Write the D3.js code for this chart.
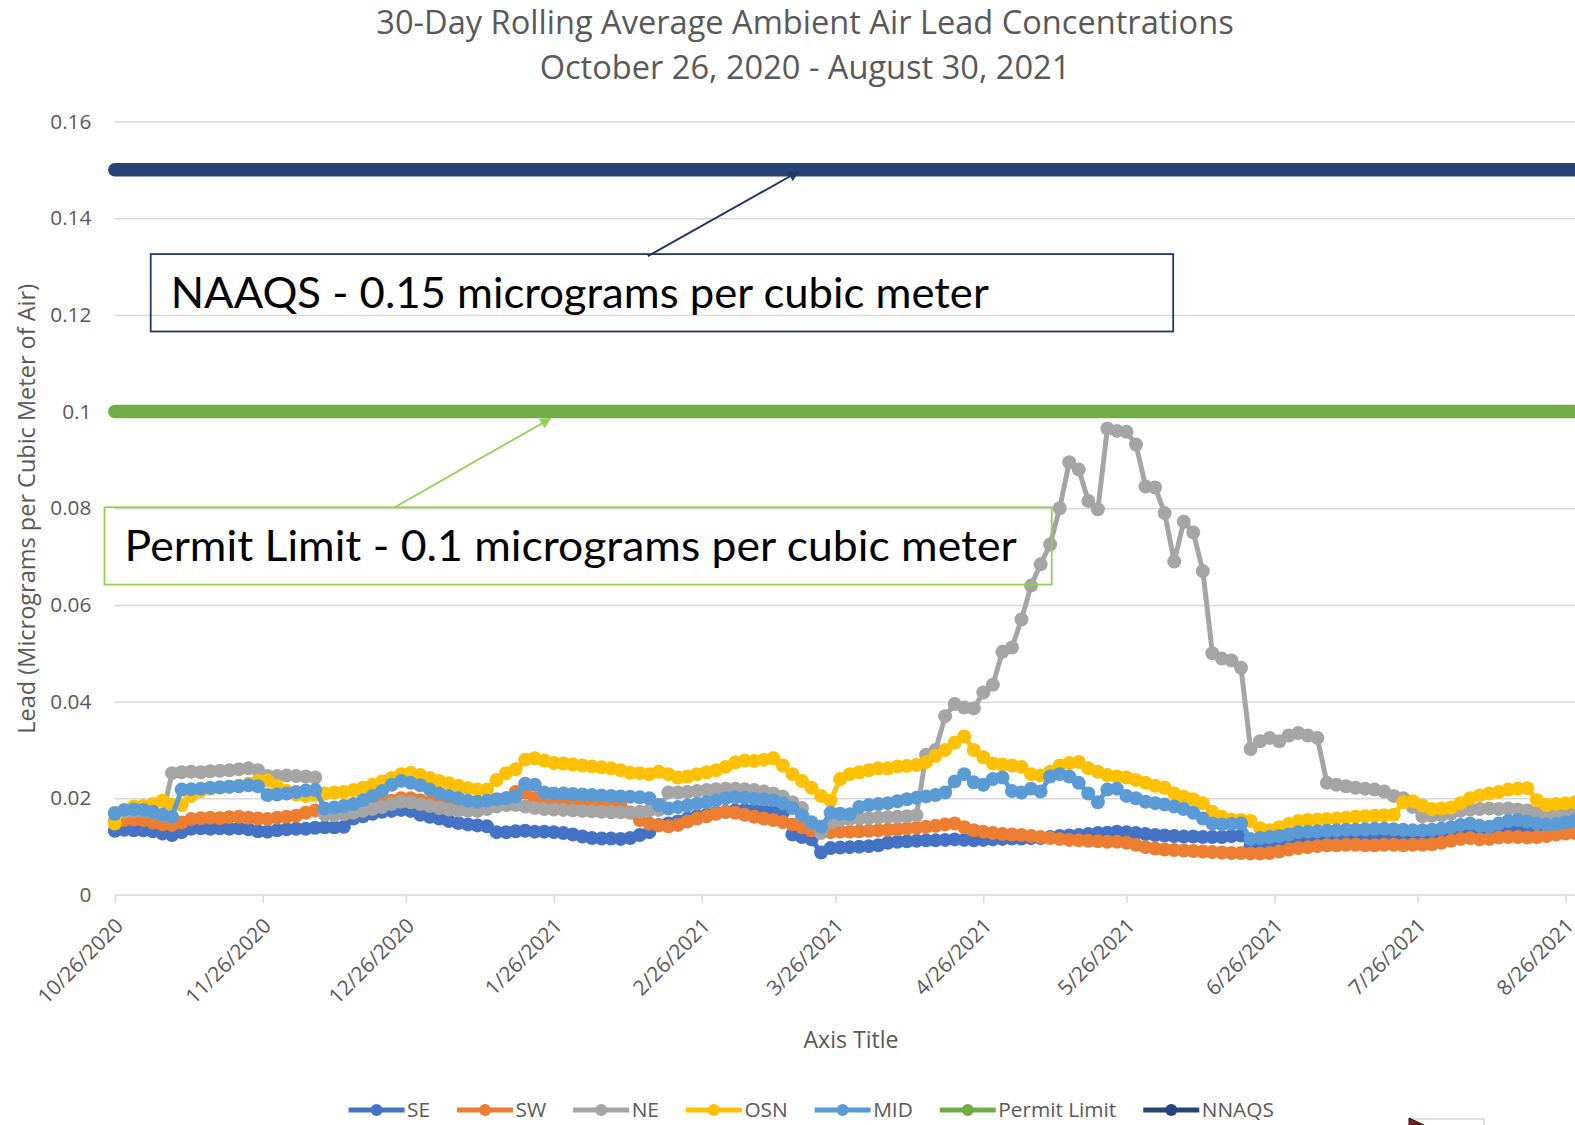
<!DOCTYPE html>
<html>
<head>
<meta charset="utf-8">
<script src="https://cdn.jsdelivr.net/npm/d3@7"></script>
<style>
  html, body { margin: 0; padding: 0; background: #fff; overflow: hidden; }
  svg { display: block; font-family: "Open Sans", sans-serif; }
</style>
</head>
<body>
<svg id="chart" width="1575" height="1125"></svg>
<script>
// readings every 2 days, 10/26/2020 .. 8/30/2021
const START_DATE = "10/26/2020";
const END_DATE = "8/30/2021";
const STEP_DAYS = 2;

const tickLabels = ["10/26/2020", "11/26/2020", "12/26/2020", "1/26/2021", "2/26/2021", "3/26/2021",
   "4/26/2021", "5/26/2021", "6/26/2021", "7/26/2021", "8/26/2021"];
const yTicks = [0, 0.02, 0.04, 0.06, 0.08, 0.1, 0.12, 0.14, 0.16];

const SE = [
   .0133,.0135,.0134,.0134,.0132,.0127,.0124,.0130,.0137,.0138,
   .0137,.0138,.0137,.0138,.0136,.0132,.0131,.0134,.0136,.0137,
   .0137,.0139,.0140,.0140,.0141,.0158,.0163,.0168,.0172,.0174,
   .0176,.0174,.0166,.0162,.0158,.0153,.0149,.0146,.0144,.0142,
   .0130,.0130,.0132,.0133,.0131,.0131,.0130,.0128,.0125,.0121,
   .0118,.0117,.0117,.0116,.0118,.0124,.0130,.0145,.0148,.0152,
   .0158,.0163,.0166,.0170,.0172,.0175,.0176,.0176,.0174,.0172,
   .0170,.0125,.0120,.0115,.0088,.0097,.0098,.0099,.0100,.0101,
   .0103,.0108,.0110,.0111,.0112,.0113,.0113,.0114,.0115,.0114,
   .0113,.0114,.0115,.0116,.0117,.0117,.0118,.0118,.0120,.0122,
   .0123,.0124,.0126,.0128,.0129,.0131,.0130,.0128,.0126,.0124,
   .0123,.0122,.0121,.0121,.0120,.0120,.0120,.0122,.0123,.0101,
   .0102,.0104,.0106,.0110,.0113,.0115,.0116,.0118,.0118,.0119,
   .0119,.0120,.0120,.0120,.0120,.0119,.0119,.0119,.0120,.0122,
   .0126,.0130,.0133,.0129,.0129,.0133,.0136,.0137,.0135,.0134,
   .0134,.0136,.0138,.0141,.0142
];
const SW = [
   .0152,.0155,.0156,.0155,.0150,.0146,.0145,.0150,.0157,.0159,
   .0160,.0159,.0161,.0162,.0160,.0158,.0157,.0160,.0162,.0164,
   .0170,.0175,.0172,.0174,.0176,.0179,.0182,.0186,.0190,.0195,
   .0200,.0200,.0196,.0192,.0188,.0186,.0184,.0183,.0184,.0188,
   .0192,.0200,.0213,.0212,.0200,.0195,.0194,.0193,.0193,.0192,
   .0190,.0188,.0186,.0184,.0170,.0155,.0148,.0144,.0142,.0145,
   .0152,.0158,.0163,.0168,.0172,.0170,.0166,.0162,.0158,.0155,
   .0151,.0146,.0140,.0134,.0131,.0130,.0131,.0131,.0132,.0133,
   .0134,.0135,.0136,.0138,.0139,.0141,.0143,.0146,.0148,.0140,
   .0134,.0131,.0128,.0126,.0125,.0124,.0122,.0120,.0118,.0116,
   .0114,.0113,.0112,.0111,.0110,.0110,.0108,.0104,.0099,.0096,
   .0094,.0093,.0092,.0091,.0090,.0089,.0088,.0087,.0087,.0086,
   .0086,.0087,.0090,.0094,.0097,.0099,.0101,.0103,.0103,.0104,
   .0104,.0103,.0103,.0104,.0104,.0103,.0104,.0104,.0105,.0108,
   .0112,.0116,.0118,.0115,.0116,.0119,.0120,.0120,.0119,.0120,
   .0122,.0125,.0127,.0128,.0129
];
const NE = [
   .0170,.0172,.0173,.0173,.0170,.0165,.0252,.0254,.0255,.0254,
   .0256,.0257,.0258,.0260,.0262,.0258,.0246,.0246,.0247,.0246,
   .0245,.0243,.0166,.0165,.0167,.0170,.0174,.0178,.0182,.0188,
   .0193,.0192,.0188,.0184,.0180,.0177,.0175,.0174,.0174,.0178,
   .0183,.0186,.0186,.0183,.0180,.0178,.0177,.0176,.0175,.0174,
   .0173,.0172,.0171,.0171,.0171,.0172,.0175,.0176,.0212,.0212,
   .0213,.0215,.0217,.0219,.0220,.0220,.0219,.0217,.0214,.0210,
   .0203,.0192,.0180,.0150,.0128,.0150,.0155,.0157,.0158,.0159,
   .0160,.0161,.0162,.0163,.0165,.0290,.0300,.0370,.0395,.0388,
   .0386,.0419,.0435,.0503,.0512,.0570,.0640,.0684,.0725,.0800,
   .0895,.0880,.0815,.0798,.0965,.0960,.0958,.0932,.0845,.0843,
   .0790,.0690,.0772,.0750,.0670,.0500,.0489,.0485,.0470,.0302,
   .0318,.0325,.0318,.0330,.0335,.0330,.0325,.0232,.0228,.0225,
   .0222,.0220,.0218,.0214,.0205,.0200,.0182,.0163,.0164,.0165,
   .0168,.0174,.0177,.0178,.0179,.0178,.0179,.0177,.0175,.0170,
   .0168,.0170,.0172,.0172,.0172
];
const OSN = [
   .0148,.0175,.0183,.0184,.0188,.0195,.0187,.0186,.0205,.0215,
   .0220,.0222,.0224,.0226,.0230,.0236,.0237,.0226,.0215,.0208,
   .0205,.0207,.0210,.0212,.0213,.0217,.0222,.0228,.0235,.0242,
   .0250,.0253,.0248,.0242,.0236,.0231,.0226,.0221,.0218,.0218,
   .0238,.0252,.0260,.0280,.0283,.0278,.0273,.0272,.0270,.0268,
   .0266,.0264,.0262,.0258,.0253,.0252,.0250,.0255,.0250,.0243,
   .0245,.0250,.0254,.0258,.0265,.0274,.0278,.0277,.0280,.0283,
   .0268,.0250,.0236,.0222,.0205,.0195,.0240,.0250,.0254,.0258,
   .0262,.0262,.0266,.0267,.0269,.0275,.0288,.0300,.0315,.0328,
   .0300,.0285,.0272,.0270,.0268,.0265,.0250,.0247,.0255,.0268,
   .0273,.0275,.0262,.0255,.0248,.0245,.0243,.0238,.0232,.0226,
   .0222,.0210,.0203,.0198,.0190,.0172,.0162,.0156,.0155,.0153,
   .0138,.0134,.0140,.0147,.0153,.0155,.0156,.0157,.0158,.0160,
   .0162,.0163,.0164,.0165,.0166,.0192,.0194,.0185,.0178,.0179,
   .0181,.0190,.0200,.0206,.0210,.0213,.0218,.0220,.0221,.0196,
   .0186,.0188,.0190,.0192,.0192
];
const MID = [
   .0168,.0176,.0177,.0176,.0172,.0166,.0162,.0218,.0219,.0220,
   .0222,.0223,.0224,.0225,.0227,.0225,.0207,.0208,.0210,.0213,
   .0216,.0217,.0179,.0181,.0184,.0188,.0196,.0205,.0215,.0228,
   .0236,.0232,.0227,.0218,.0210,.0205,.0200,.0195,.0193,.0195,
   .0198,.0200,.0204,.0230,.0228,.0212,.0210,.0210,.0209,.0208,
   .0207,.0206,.0205,.0204,.0203,.0202,.0200,.0186,.0179,.0182,
   .0185,.0189,.0192,.0196,.0200,.0202,.0201,.0199,.0198,.0196,
   .0190,.0180,.0165,.0150,.0141,.0170,.0168,.0167,.0182,.0186,
   .0188,.0190,.0194,.0198,.0201,.0204,.0207,.0212,.0235,.0250,
   .0233,.0228,.0240,.0243,.0215,.0212,.0220,.0214,.0245,.0250,
   .0245,.0232,.0210,.0192,.0218,.0220,.0205,.0200,.0193,.0190,
   .0187,.0183,.0178,.0170,.0158,.0148,.0146,.0147,.0148,.0116,
   .0118,.0120,.0122,.0125,.0130,.0131,.0132,.0133,.0134,.0135,
   .0135,.0136,.0137,.0137,.0136,.0135,.0134,.0134,.0135,.0137,
   .0140,.0145,.0148,.0143,.0141,.0148,.0153,.0155,.0152,.0148,
   .0146,.0147,.0150,.0154,.0155
];
const permitLimit = 0.1;
const naaqs = 0.15;

const seriesNames = ["SE", "SW", "NE", "OSN", "MID"];
const seriesValues = [SE, SW, NE, OSN, MID];
const seriesColors = ["#4472C4", "#ED7D31", "#A5A5A5", "#FFC000", "#5B9BD5"];
const PERMIT_COLOR = "#70AD47";
const NAAQS_COLOR = "#264478";
const TEXT_COLOR = "#595959";
const GRID_COLOR = "#D9D9D9";

const PLOT_LEFT = 114.8;
const PLOT_RIGHT = 1584.6;
const PLOT_TOP = 121.5;
const PLOT_BOTTOM = 895;
const GRID_END = 1590;
const MARKER_R = 7;
const LINE_W = 5;

const parseDate = d3.utcParse("%m/%d/%Y");
const startDate = parseDate(START_DATE);
const dates = SE.map((_, i) => d3.utcDay.offset(startDate, i * STEP_DAYS));
const tickDates = tickLabels.map(parseDate);

const x = d3.scaleUtc()
   .domain([startDate, parseDate(END_DATE)])
   .range([PLOT_LEFT, PLOT_RIGHT]);
const y = d3.scaleLinear()
   .domain([0, 0.16])
   .range([PLOT_BOTTOM, PLOT_TOP]);

const svg = d3.select("#chart");

svg.append("rect").attr("width", 1575).attr("height", 1125).attr("fill", "#fff");

// title
const title = svg.append("g")
   .attr("fill", TEXT_COLOR)
   .attr("text-anchor", "middle")
   .style("font-size", "32.6px");
title.append("text").attr("x", 805).attr("y", 33.6)
   .text("30-Day Rolling Average Ambient Air Lead Concentrations");
title.append("text").attr("x", 805).attr("y", 78.9)
   .text("October 26, 2020 - August 30, 2021");

// horizontal gridlines
svg.append("g")
   .attr("transform", `translate(${PLOT_LEFT},0)`)
   .call(d3.axisLeft(y).tickValues(yTicks.slice(1)).tickSize(-(GRID_END - PLOT_LEFT)).tickFormat(""))
   .call(g => g.select(".domain").remove())
   .call(g => g.selectAll("line").attr("stroke", GRID_COLOR).attr("stroke-width", 1.5));

// y labels
const fmtY = d => d === 0 ? "0" : String(+d.toFixed(2));
svg.append("g")
   .attr("transform", `translate(${PLOT_LEFT},0)`)
   .call(d3.axisLeft(y).tickValues(yTicks).tickSize(0).tickPadding(23.4).tickFormat(fmtY))
   .call(g => g.select(".domain").remove())
   .call(g => g.selectAll("text")
      .attr("fill", TEXT_COLOR)
      .style("font-family", "'Open Sans', sans-serif")
      .style("font-size", "20.8px"));

// x axis
const xAxis = svg.append("g")
   .attr("transform", `translate(0,${PLOT_BOTTOM})`)
   .call(d3.axisBottom(x).tickValues(tickDates).tickSizeInner(8).tickSizeOuter(0)
      .tickFormat(d3.utcFormat("%-m/%-d/%Y")));
xAxis.select(".domain")
   .attr("d", `M${PLOT_LEFT},0H${GRID_END}`)
   .attr("stroke", GRID_COLOR).attr("stroke-width", 1.5);
xAxis.selectAll("line").attr("stroke", GRID_COLOR).attr("stroke-width", 1.5);
xAxis.selectAll("text")
   .attr("x", 0).attr("y", 0).attr("dy", "0.35em")
   .attr("text-anchor", "end")
   .attr("transform", "translate(4,27) rotate(-45)")
   .attr("fill", TEXT_COLOR)
   .style("font-family", "'Open Sans', sans-serif")
   .style("font-size", "20.8px");

// axis titles
svg.append("text")
   .attr("x", 851).attr("y", 1039.6).attr("dy", "0.35em")
   .attr("text-anchor", "middle")
   .attr("fill", TEXT_COLOR)
   .style("font-size", "23.1px")
   .text("Axis Title");
svg.append("text")
   .attr("transform", "translate(27,508.8) rotate(-90)")
   .attr("dy", "0.35em")
   .attr("text-anchor", "middle")
   .attr("fill", TEXT_COLOR)
   .style("font-size", "23.5px")
   .text("Lead (Micrograms per Cubic Meter of Air)");

// data series
const line = d3.line()
   .x((_, i) => x(dates[i]))
   .y(d => y(d));

seriesValues.forEach((vals, s) => {
   const g = svg.append("g").attr("class", "series-" + seriesNames[s]);
   g.append("path")
      .attr("d", line(vals))
      .attr("fill", "none")
      .attr("stroke", seriesColors[s])
      .attr("stroke-width", LINE_W)
      .attr("stroke-linejoin", "round");
   g.selectAll("circle")
      .data(vals)
      .enter()
      .append("circle")
      .attr("cx", (_, i) => x(dates[i]))
      .attr("cy", d => y(d))
      .attr("r", MARKER_R)
      .attr("fill", seriesColors[s]);
});

// limit lines
const limitLine = (val, color) => {
   svg.append("path")
      .attr("d", d3.line().x(d => x(d)).y(() => y(val))([startDate, parseDate(END_DATE)]))
      .attr("stroke", color)
      .attr("stroke-width", 13.5)
      .attr("stroke-linecap", "round")
      .attr("fill", "none");
};
limitLine(permitLimit, PERMIT_COLOR);
limitLine(naaqs, NAAQS_COLOR);

// annotations
const defs = svg.append("defs");
const arrowHead = (id, color) => defs.append("marker")
   .attr("id", id)
   .attr("viewBox", "0 0 10 10")
   .attr("refX", 9).attr("refY", 5)
   .attr("markerUnits", "userSpaceOnUse")
   .attr("markerWidth", 13).attr("markerHeight", 11)
   .attr("orient", "auto")
   .append("path").attr("d", "M0,0L10,5L0,10z").attr("fill", color);
arrowHead("arrow-navy", "#203864");
arrowHead("arrow-green", "#92D050");

svg.append("line")
   .attr("x1", 647.9).attr("y1", 256.1).attr("x2", 798.6).attr("y2", 171.5)
   .attr("stroke", "#203864").attr("stroke-width", 2)
   .attr("marker-end", "url(#arrow-navy)");
svg.append("rect")
   .attr("x", 150.7).attr("y", 254.1).attr("width", 1022.5).attr("height", 77.4)
   .attr("fill", "none").attr("stroke", "#203864").attr("stroke-width", 1.8);
svg.append("text")
   .attr("x", 170.8).attr("y", 308.4)
   .attr("textLength", 818).attr("lengthAdjust", "spacingAndGlyphs")
   .style("font-family", "Lato, 'Open Sans', sans-serif")
   .style("font-size", "42px")
   .attr("fill", "#000")
   .text("NAAQS - 0.15 micrograms per cubic meter");

svg.append("line")
   .attr("x1", 394.8).attr("y1", 507.3).attr("x2", 550.4).attr("y2", 418.5)
   .attr("stroke", "#92D050").attr("stroke-width", 1.8)
   .attr("marker-end", "url(#arrow-green)");
svg.append("rect")
   .attr("x", 104.5).attr("y", 507.3).attr("width", 947.2).attr("height", 77.3)
   .attr("fill", "none").attr("stroke", "#92D050").attr("stroke-width", 1.8);
svg.append("text")
   .attr("x", 124.6).attr("y", 560.5)
   .attr("textLength", 892).attr("lengthAdjust", "spacingAndGlyphs")
   .style("font-family", "Lato, 'Open Sans', sans-serif")
   .style("font-size", "42px")
   .attr("fill", "#000")
   .text("Permit Limit - 0.1 micrograms per cubic meter");

// legend
const legendItems = seriesNames.map((n, i) => ({ name: n, color: seriesColors[i] }))
   .concat([{ name: "Permit Limit", color: PERMIT_COLOR }, { name: "NNAQS", color: NAAQS_COLOR }]);
const legend = svg.append("g").attr("id", "legend");
let lx = 348.6;
const LY = 1110;
legendItems.forEach(item => {
   const g = legend.append("g");
   g.append("line")
      .attr("x1", lx).attr("x2", lx + 56).attr("y1", LY).attr("y2", LY)
      .attr("stroke", item.color).attr("stroke-width", LINE_W);
   g.append("circle").attr("cx", lx + 28).attr("cy", LY).attr("r", 6).attr("fill", item.color);
   const t = g.append("text")
      .attr("x", lx + 58.5).attr("y", LY).attr("dy", "0.35em")
      .attr("fill", TEXT_COLOR)
      .style("font-size", "20.8px")
      .text(item.name);
   lx += 58.5 + t.node().getComputedTextLength() + 27;
});

// corner of a neighbouring shape, clipped at the bottom edge
svg.append("path")
   .attr("d", "M1409,1119H1484V1125")
   .attr("fill", "none").attr("stroke", "#BFBFBF").attr("stroke-width", 1);
svg.append("path")
   .attr("d", "M1409,1118L1424,1125L1409,1125Z")
   .attr("fill", "#7B1F1F").attr("stroke", "#3A0A0A").attr("stroke-width", 1);
</script>
</body>
</html>
